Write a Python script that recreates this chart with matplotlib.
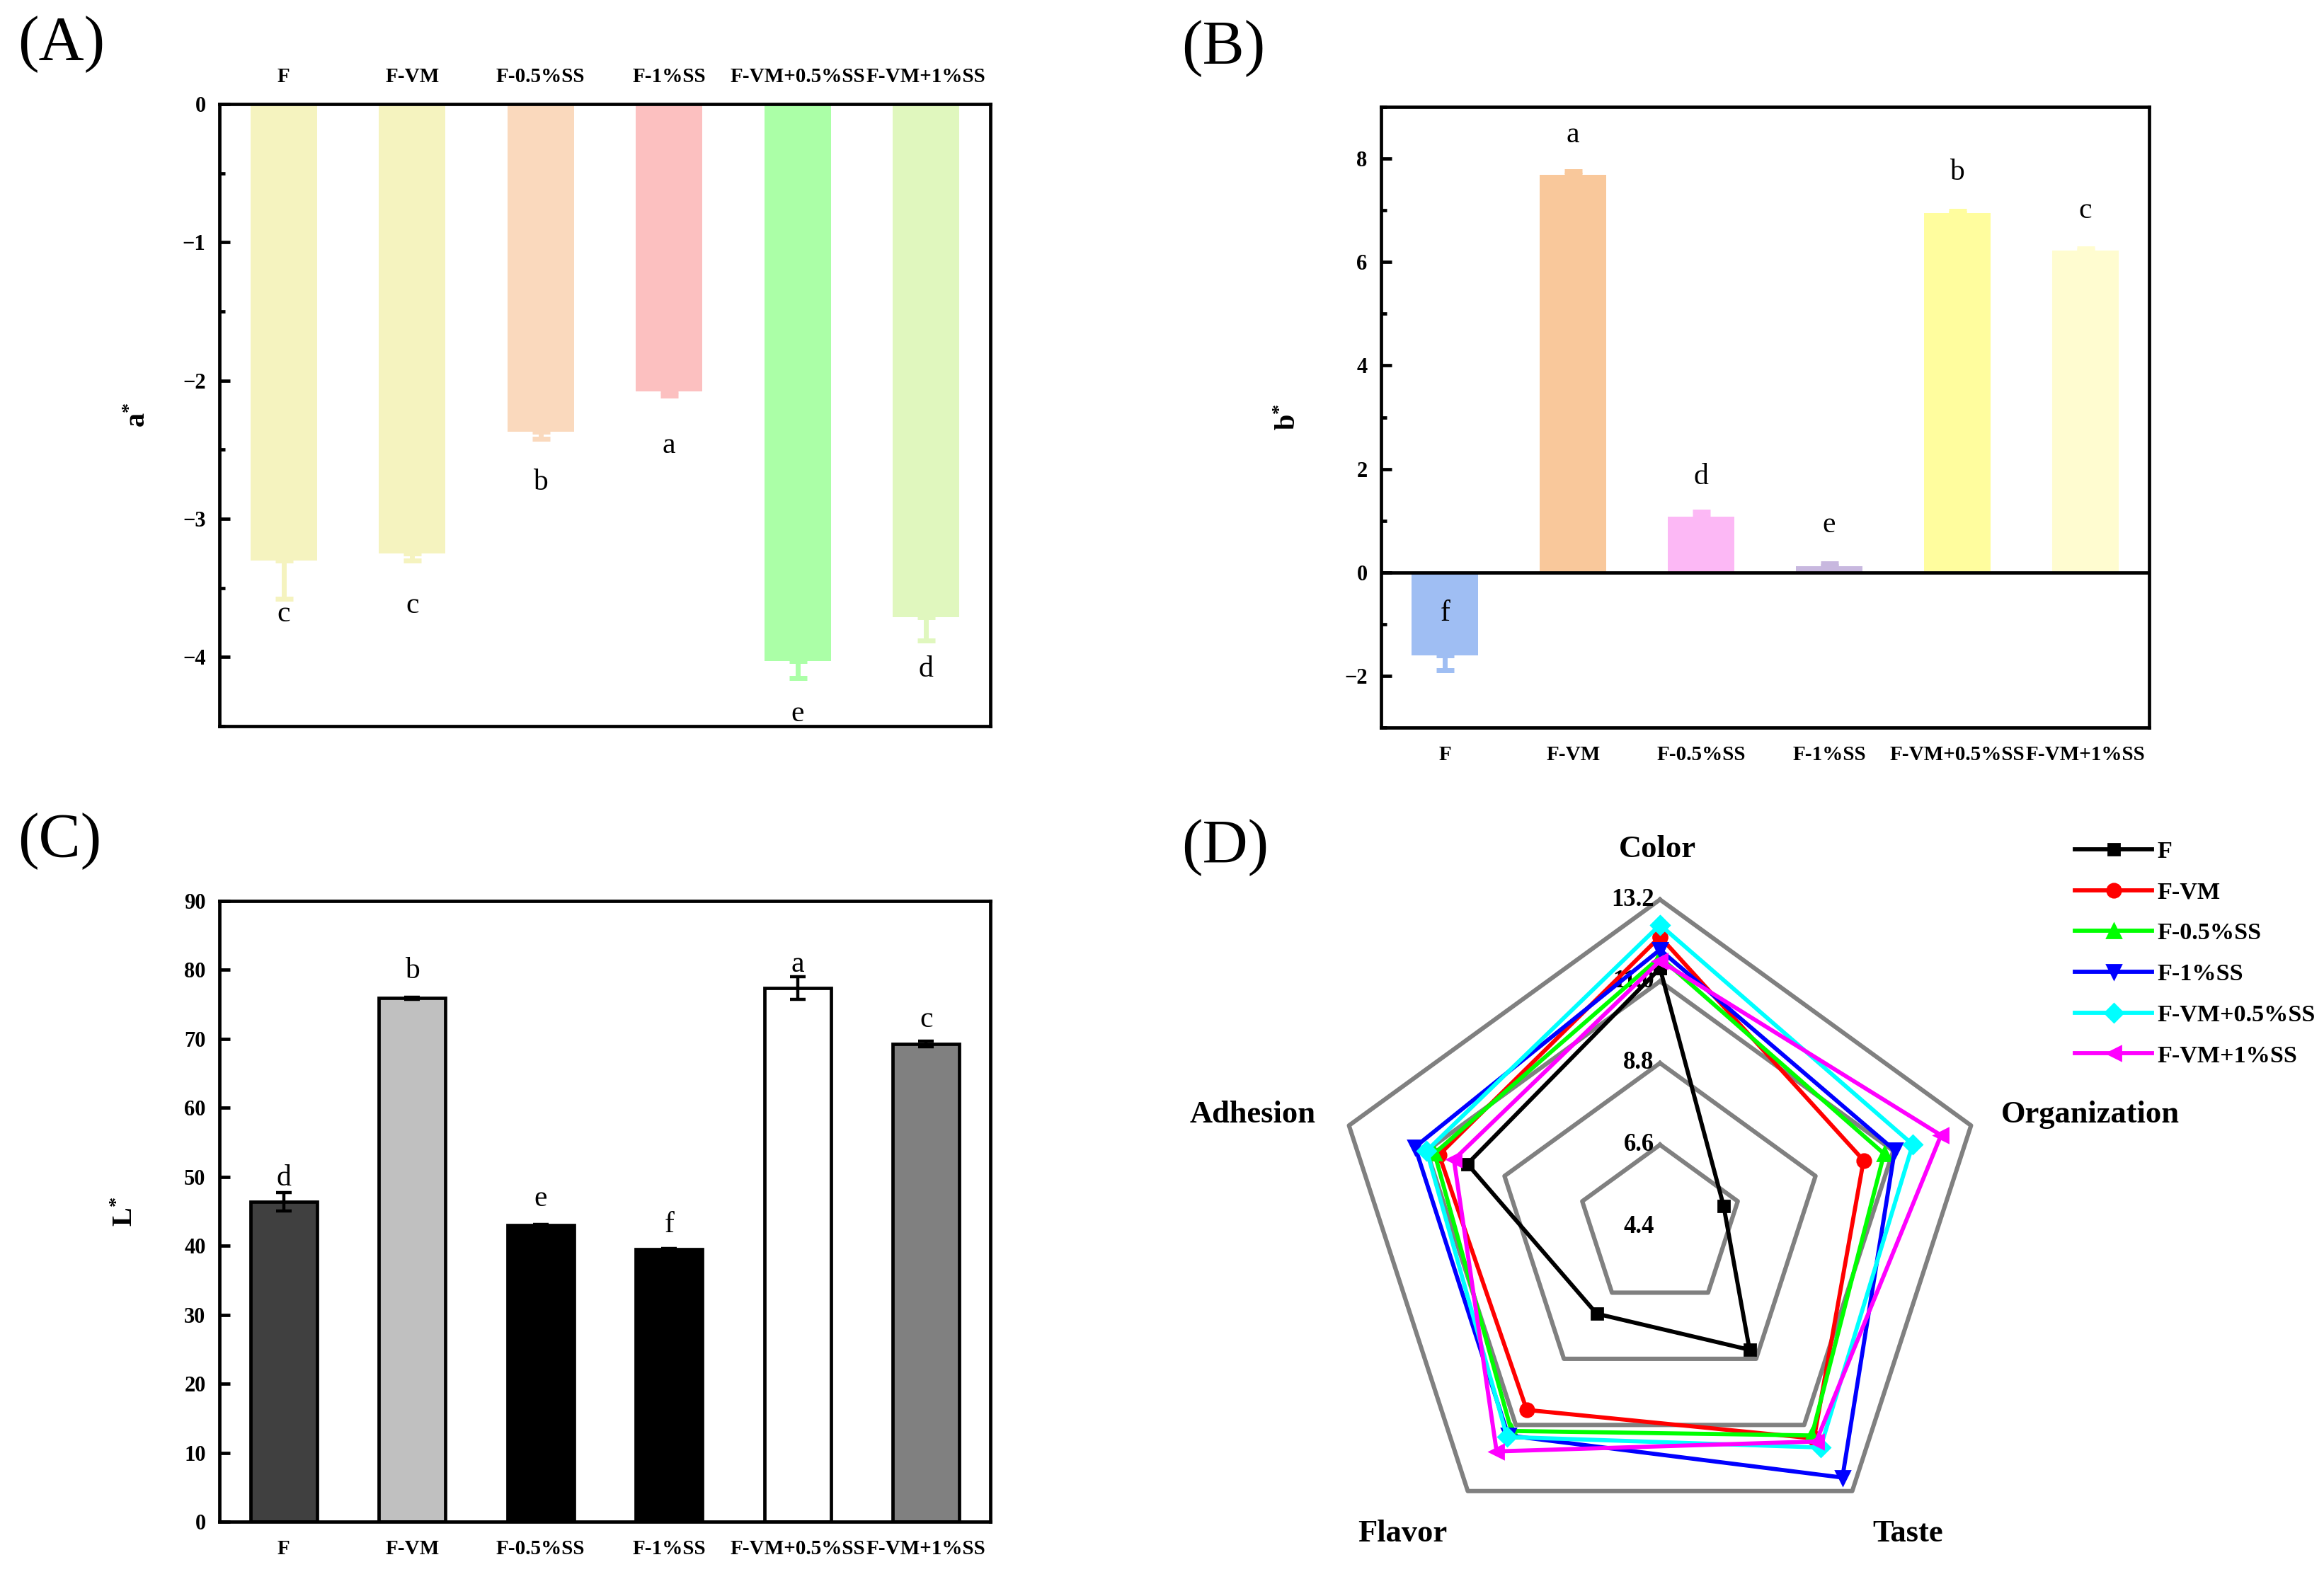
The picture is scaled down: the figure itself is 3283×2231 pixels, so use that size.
import numpy as np
import matplotlib
matplotlib.use('Agg')
import matplotlib.pyplot as plt
from matplotlib.ticker import MultipleLocator

plt.rcParams['font.family'] = ['Liberation Serif', 'DejaVu Serif']
plt.rcParams['font.weight'] = 'bold'
plt.rcParams['mathtext.fontset'] = 'custom'
plt.rcParams['mathtext.rm'] = 'Liberation Serif'
plt.rcParams['mathtext.bf'] = 'Liberation Serif:bold'
plt.rcParams['mathtext.it'] = 'Liberation Serif:italic'

# --- data ---
groups = ['F', 'F-VM', 'F-0.5%SS', 'F-1%SS', 'F-VM+0.5%SS', 'F-VM+1%SS']

a_values = [-3.30, -3.25, -2.37, -2.08, -4.03, -3.71]
a_errors = [0.28, 0.05, 0.05, 0.03, 0.12, 0.17]
a_letters = ['c', 'c', 'b', 'a', 'e', 'd']
a_letter_y = [-3.69, -3.63, -2.74, -2.47, -4.41, -4.09]

b_values = [-1.60, 7.68, 1.08, 0.12, 6.95, 6.22]
b_errors = [0.29, 0.08, 0.09, 0.06, 0.04, 0.05]
b_letters = ['f', 'a', 'd', 'e', 'b', 'c']
b_letter_y = [-0.79, 8.45, 1.85, 0.91, 7.73, 6.99]

l_values = [46.4, 75.9, 43.0, 39.5, 77.4, 69.3]
l_errors = [1.3, 0.15, 0.1, 0.1, 1.65, 0.4]
l_letters = ['d', 'b', 'e', 'f', 'a', 'c']
l_letter_y = [49.8, 79.9, 46.8, 43.0, 80.8, 72.8]

sensory = ['Color', 'Organization', 'Taste', 'Flavor', 'Adhesion']
score_f = [11.35, 6.2, 8.5, 7.3, 9.85]
score_fvm = [12.2, 10.16, 11.45, 10.5, 10.65]
score_f05 = [11.65, 10.74, 11.35, 11.2, 10.78]
score_f1 = [11.85, 11.04, 12.75, 11.35, 11.33]
score_fvm05 = [12.52, 11.55, 11.75, 11.4, 11.0]
score_fvm1 = [11.55, 12.35, 11.55, 11.88, 10.23]
radar_levels = [4.4, 6.6, 8.8, 11.0, 13.2]

# --- styles ---
a_colors = ['#F5F3BF', '#F5F3BF', '#FAD9BD', '#FCC0C0', '#ABFFA7', '#E0F7BE']
b_colors = ['#9FBEF3', '#F9C89B', '#FCB8F5', '#C8B8DF', '#FFFD9E', '#FFFCD0']
l_colors = ['#404040', '#C0C0C0', '#000000', '#000000', '#FFFFFF', '#808080']
line_colors = ['black', 'red', '#00FF00', 'blue', 'cyan', 'magenta']
markers = ['s', 'o', '^', 'v', 'D', '<']
msizes = [6, 7, 7.5, 7.5, 6.5, 7.5]

W, H = 3283, 2231
fig = plt.figure(figsize=(W / 200, H / 200), dpi=200)
x = np.arange(len(groups))
SPINE = 1.7


def style_box(ax):
    for s in ax.spines.values():
        s.set_linewidth(SPINE)
    ax.set_xlim(-0.5, len(groups) - 0.5)
    ax.set_xticks(x)
    ax.set_xticklabels(groups)
    ax.tick_params(axis='x', length=0, labelsize=10.5, pad=9)
    ax.tick_params(axis='y', which='major', direction='in', length=5.5,
                   width=SPINE, labelsize=11, pad=7)
    ax.tick_params(axis='y', which='minor', direction='in', length=3, width=SPINE)


def put_letters(ax, letters, ys):
    for i, (t, y) in enumerate(zip(letters, ys)):
        ax.text(x[i], y, t, ha='center', va='center', fontsize=15,
                fontweight='normal', zorder=5)


# (A) a*
ax_a = fig.add_axes([310 / W, 1 - 1026 / H, 1089 / W, 879 / H])
ax_a.bar(x, a_values, width=0.52, color=a_colors, zorder=2)
for i in range(len(groups)):
    ax_a.errorbar(x[i], a_values[i], yerr=[[a_errors[i]], [0]], color=a_colors[i],
                  elinewidth=2.5, capsize=4.5, capthick=2.5, zorder=3)
style_box(ax_a)
ax_a.set_ylim(-4.5, 0)
ax_a.yaxis.set_major_locator(MultipleLocator(1))
ax_a.yaxis.set_minor_locator(MultipleLocator(0.5))
ax_a.tick_params(axis='x', top=False, bottom=False, labeltop=True, labelbottom=False)
ax_a.set_ylabel(r'$\mathbf{a}^{\mathbf{*}}$', fontsize=14.5)
ax_a.yaxis.set_label_coords(-0.088, 0.5)
put_letters(ax_a, a_letters, a_letter_y)

# (B) b*
ax_b = fig.add_axes([1951 / W, 1 - 1028 / H, 1085 / W, 877 / H])
ax_b.bar(x, b_values, width=0.52, color=b_colors, zorder=2)
for i in range(len(groups)):
    if b_values[i] < 0:
        err = [[b_errors[i]], [0]]
    else:
        err = [[0], [b_errors[i]]]
    ax_b.errorbar(x[i], b_values[i], yerr=err, color=b_colors[i],
                  elinewidth=2.5, capsize=4.5, capthick=2.5, zorder=3)
ax_b.axhline(0, color='black', lw=SPINE, zorder=4)
style_box(ax_b)
ax_b.set_ylim(-3, 9)
ax_b.yaxis.set_major_locator(MultipleLocator(2))
ax_b.yaxis.set_minor_locator(MultipleLocator(1))
ax_b.set_ylabel(r'$\mathbf{b}^{\mathbf{*}}$', fontsize=14.5)
ax_b.yaxis.set_label_coords(-0.103, 0.5)
put_letters(ax_b, b_letters, b_letter_y)

# (C) L*
ax_c = fig.add_axes([310 / W, 1 - 2150 / H, 1089 / W, 877 / H])
ax_c.bar(x, l_values, width=0.52, color=l_colors, edgecolor='black',
         linewidth=1.7, zorder=2)
ax_c.errorbar(x, l_values, yerr=l_errors, fmt='none', ecolor='black',
              elinewidth=1.6, capsize=4, capthick=1.6, zorder=3)
style_box(ax_c)
ax_c.set_ylim(0, 90)
ax_c.yaxis.set_major_locator(MultipleLocator(10))
ax_c.set_ylabel(r'$\mathbf{L}^{\mathbf{*}}$', fontsize=14.5)
ax_c.yaxis.set_label_coords(-0.105, 0.5)
put_letters(ax_c, l_letters, l_letter_y)

# (D) radar
cx, cy, R = 2345, 1733, 462
ax_d = fig.add_axes([(cx - R) / W, 1 - (cy + R) / H, 2 * R / W, 2 * R / H],
                    projection='polar')
ax_d.set_theta_offset(np.pi / 2)
ax_d.set_theta_direction(-1)
ax_d.set_ylim(radar_levels[0], radar_levels[-1])
ax_d.set_xticks([])
ax_d.set_yticks([])
ax_d.grid(False)
ax_d.spines['polar'].set_visible(False)

angles = np.linspace(0, 2 * np.pi, len(sensory), endpoint=False)
closed = np.append(angles, angles[0])
for lev in radar_levels[1:]:
    ax_d.plot(closed, np.full(len(closed), lev), color='#808080', lw=2.2,
              clip_on=False, zorder=1)
for lev in radar_levels:
    ax_d.annotate(f'{lev:.1f}', xy=(0, lev), xytext=(-3, 0), textcoords='offset points',
                  ha='right', va='center', fontsize=12.5, zorder=2)

series = [score_f, score_fvm, score_f05, score_f1, score_fvm05, score_fvm1]
for vals, name, c, m, ms in zip(series, groups, line_colors, markers, msizes):
    ax_d.plot(closed, vals + vals[:1], color=c, marker=m, ms=ms, lw=2.1,
              label=name, clip_on=False, zorder=3)

label_pos = [(0.496, 1.077), (1.158, 0.671), (0.879, 0.030),
             (0.106, 0.030), (-0.123, 0.671)]
for name, (px, py) in zip(sensory, label_pos):
    ax_d.text(px, py, name, transform=ax_d.transAxes, ha='center', va='center',
              fontsize=16)

ax_d.legend(loc='upper left', bbox_to_anchor=(2931 / W, 1 - 1188 / H),
            bbox_transform=fig.transFigure, frameon=False, fontsize=12.3,
            handlelength=3.2, handletextpad=0.2, labelspacing=0.78,
            borderpad=0, borderaxespad=0, numpoints=1)

# panel letters
for lab, px, py in [('(A)', 25, 63), ('(B)', 1669, 69), ('(C)', 25, 1189), ('(D)', 1669, 1198)]:
    fig.text(px / W, 1 - py / H, lab, fontsize=32, fontweight='normal',
             ha='left', va='center')

fig.savefig('out.png', dpi=200, facecolor='white')
